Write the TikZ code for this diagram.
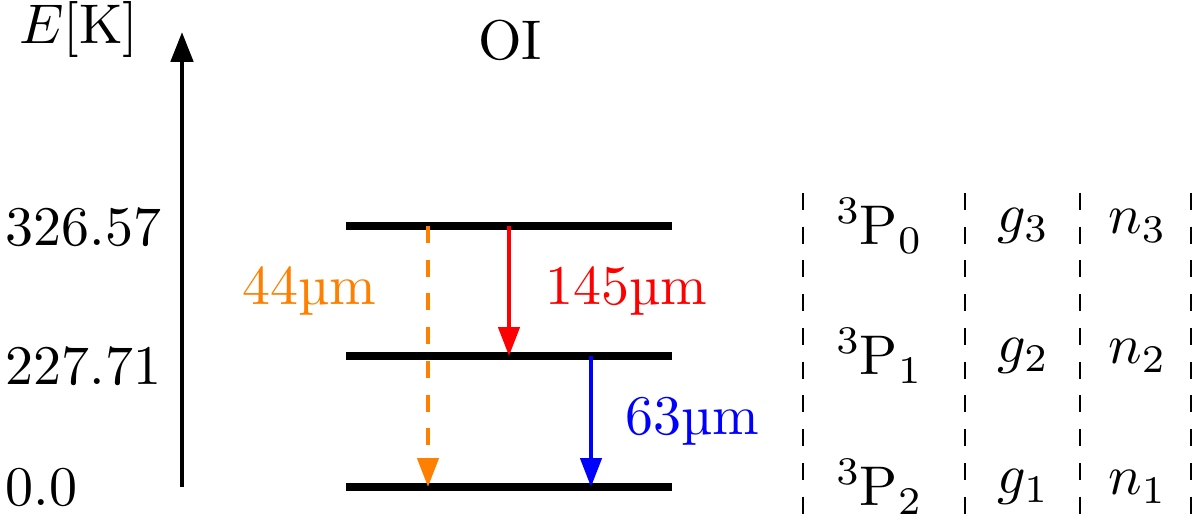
\documentclass[tikz,border=0pt]{standalone}
\usepackage[no-math]{fontspec}
\setmainfont{lmroman10-regular.otf}[ItalicFont=lmroman10-italic.otf, BoldFont=lmroman10-bold.otf]
\DeclareFontShape{OT1}{cmr}{m}{n}{<-15>cmr7 <15->cmr10}{}
\DeclareFontShape{OML}{cmm}{m}{it}{<-15>cmmi7 <15->cmmi10}{}
\usepackage{tikz}
\usetikzlibrary{arrows.meta}

\tikzset{
	level/.style={line width=2.6pt},
	trans/.style={line width=1.5pt, -{Triangle[length=10.3pt,width=7.5pt]}},
	sep/.style={line width=0.9pt, dash pattern=on 6pt off 6pt},
}

\begin{document}
\begin{tikzpicture}[every node/.style={font=\fontsize{19.9}{24}\selectfont}]
			\useasboundingbox (0,0) rectangle (15,6.6125);
			
			% Energy axis
			\coordinate (ax0) at (2.275,0.525);
			\coordinate (ax1) at (2.275,6.2125);
			\draw[line width=1.7pt, -{Triangle[length=10.6pt,width=7.8pt]}] (ax0) -- (ax1);
			\node (elab) at (0.9875,6.2375) {$E[\mathrm{K}]$};
			\node (species) at (6.375,6.1125) {OI};
			
			% Levels with their energies
			\foreach \nm/\y/\ly/\en in {lo/0.525/0.525/0.0, mid/2.1625/2.0375/227.71, up/3.7875/3.775/326.57} {
				\coordinate (\nm w) at (4.325,\y);
				\coordinate (\nm e) at (8.4,\y);
				\draw[level] (\nm w) -- (\nm e);
				\node[anchor=west, inner sep=0pt] (\nm en) at (0.0625,\ly) {\en};
			}
			
			% Transitions
			\coordinate (xo) at (5.35,0);
			\coordinate (xr) at (6.3625,0);
			\coordinate (xb) at (7.3875,0);
			\draw[trans, orange, dash pattern=on 6pt off 6pt] (xo |- upw) -- (xo |- low);
			\draw[trans, red] (xr |- upw) -- (xr |- midw);
			\draw[trans, blue] (xb |- midw) -- (xb |- low);
			\node[orange, anchor=base east, inner sep=0pt] (l44) at (4.7125,2.8) {44\textmu m};
			\node[red, anchor=base west, inner sep=0pt] (l145) at (6.8125,2.8) {145\textmu m};
			\node[blue, anchor=base west, inner sep=0pt] (l63) at (7.8125,1.175) {63\textmu m};
			
			% Term, weight and population table
			\foreach \x in {10.0375,12.0625,13.5,14.8875}
				\draw[sep] (\x,4.2) -- (\x,0.1125);
			\foreach \nm/\y/\j/\k in {up/3.7875/0/3, mid/2.1625/1/2, lo/0.525/2/1} {
				\node (term\nm) at (10.9875,\y) {$^3\mathrm{P}_\j$};
				\node (g\nm) at (12.7875,\y) {$g_\k$};
				\node (n\nm) at (14.2125,\y) {$n_\k$};
			}
		\end{tikzpicture}
\end{document}
